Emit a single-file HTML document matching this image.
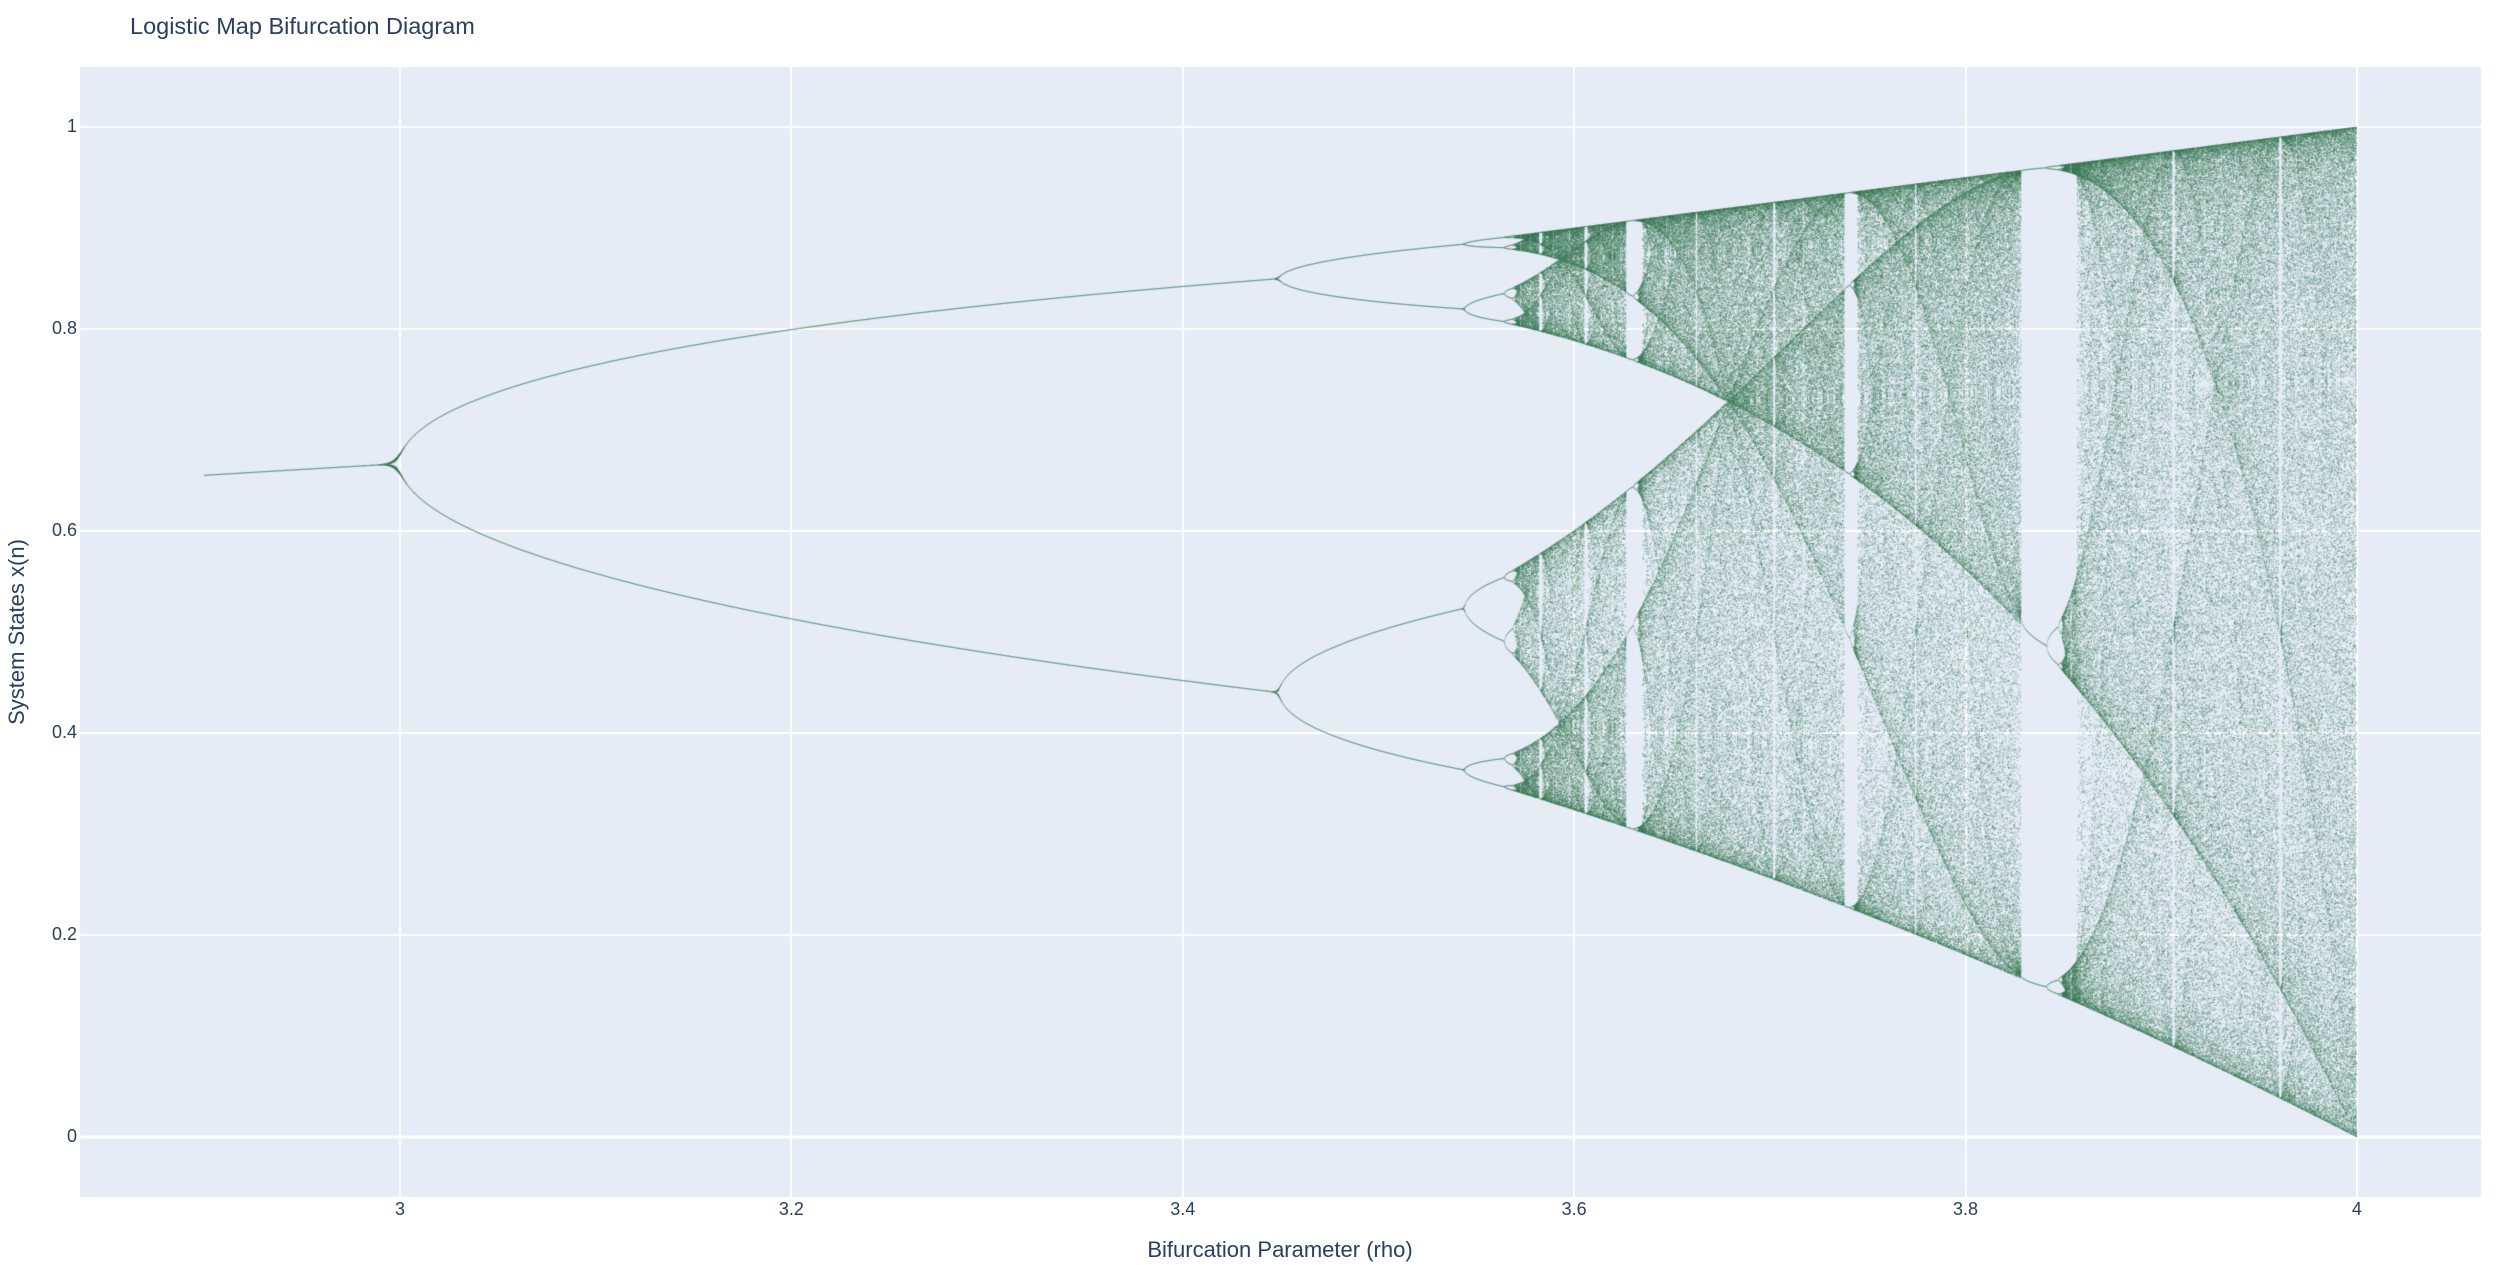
<!DOCTYPE html>
<html><head><meta charset="utf-8">
<style>
html,body{margin:0;padding:0;background:#fff;width:2509px;height:1265px;overflow:hidden;font-family:"Liberation Sans",Arial,sans-serif;}
#wrap{position:relative;width:2509px;height:1265px;}
.t{position:absolute;color:#2a3f5f;white-space:nowrap;}
canvas{position:absolute;left:0;top:0;}
</style></head>
<body>
<div id="wrap">
<canvas id="cv" width="2509" height="1265"></canvas>
<div class="t" style="left:130px;top:13px;font-size:23.5px;">Logistic Map Bifurcation Diagram</div>
<div class="t" style="left:1280px;top:1237px;font-size:22px;transform:translateX(-50%);">Bifurcation Parameter (rho)</div>
<div class="t" style="left:17px;top:632px;font-size:22px;transform:translate(-50%,-50%) rotate(-90deg);">System States x(n)</div>
<div id="ticks"></div>
</div>
<script>
// data
const rhoRange = [2.9, 4.0];
const rhoSamples = 4400;
const transientIters = 500;
const plottedIters = 260;
const x0 = 0.5;
const xTicks = [3, 3.2, 3.4, 3.6, 3.8, 4];
const xTickLabels = ["3", "3.2", "3.4", "3.6", "3.8", "4"];
const yTicks = [0, 0.2, 0.4, 0.6, 0.8, 1];
const yTickLabels = ["0", "0.2", "0.4", "0.6", "0.8", "1"];

const L=80,R=2481,T=67,B=1197;
const xMin=2.8365,xMax=4.0634,yMin=-0.0594,yMax=1.0594;
function sx(v){return L+(v-xMin)/(xMax-xMin)*(R-L);}
function sy(v){return B-(v-yMin)/(yMax-yMin)*(B-T);}

const cv=document.getElementById('cv');
const ctx=cv.getContext('2d');
ctx.fillStyle='#e5ecf6';
ctx.fillRect(L,T,R-L,B-T);
ctx.strokeStyle='#ffffff';
xTicks.forEach(v=>{const x=Math.round(sx(v));ctx.lineWidth=2;ctx.beginPath();ctx.moveTo(x,T);ctx.lineTo(x,B);ctx.stroke();});
yTicks.forEach(v=>{const y=Math.round(sy(v));ctx.lineWidth=(v===0)?3:2;ctx.beginPath();ctx.moveTo(L,y);ctx.lineTo(R,y);ctx.stroke();});

ctx.save();
ctx.beginPath();ctx.rect(L,T,R-L,B-T);ctx.clip();
ctx.fillStyle='rgba(34,105,62,0.36)';
for(let i=0;i<rhoSamples;i++){
  const r=rhoRange[0]+(rhoRange[1]-rhoRange[0])*i/(rhoSamples-1);
  let x=x0;
  for(let k=0;k<transientIters;k++) x=r*x*(1-x);
  const px=sx(r);
  const seen=new Set();
  for(let k=0;k<plottedIters;k++){
    x=r*x*(1-x);
    const py=sy(x);
    const key=Math.round(py*2);
    if(seen.has(key)) continue;
    seen.add(key);
    ctx.fillRect(px-0.5,py-0.5,1.1,1.1);
  }
}
ctx.restore();

const tk=document.getElementById('ticks');
xTicks.forEach((v,i)=>{
  const d=document.createElement('div');
  
  
  d.className='t';d.textContent=xTickLabels[i];
  d.style.cssText='left:'+sx(v)+'px;top:1199px;font-size:18px;transform:translateX(-50%);';
  tk.appendChild(d);
});
yTicks.forEach((v,i)=>{
  const d=document.createElement('div');
  
  
  d.className='t';d.textContent=yTickLabels[i];
  d.style.cssText='right:'+(2509-77)+'px;top:'+(sy(v)-11)+'px;font-size:18px;';
  tk.appendChild(d);
});
</script>
</body></html>
